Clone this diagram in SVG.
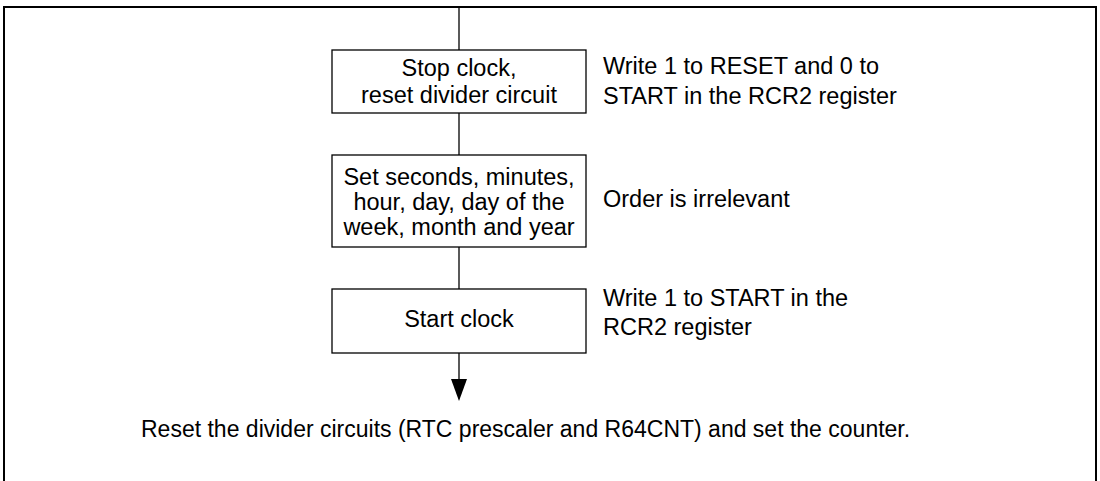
<svg xmlns="http://www.w3.org/2000/svg" width="1100" height="481" viewBox="0 0 1100 481">
<style>
.frame{fill:none;stroke:#000;stroke-width:2}
.box{fill:#fff;stroke:#000;stroke-width:1.3}
.ln{fill:none;stroke:#000;stroke-width:1.3}
.head{fill:#000}
text{font-family:"Liberation Sans",Arial,sans-serif;font-size:23.5px;fill:#000}
.c{text-anchor:middle}
.cap{font-size:23px}
</style>
<path class="frame" d="M4,481 V7 H1096 V481"/>
<g id="connectors">
<line class="ln" x1="459" y1="7" x2="459" y2="50"/>
<line class="ln" x1="459" y1="113" x2="459" y2="155"/>
<line class="ln" x1="459" y1="247" x2="459" y2="289"/>
<line class="ln" x1="459" y1="353" x2="459" y2="382"/>
<polygon class="head" points="451,379 467,379 459,401"/>
</g>
<g id="n1">
<rect class="box" x="332" y="50" width="254" height="63"/>
<text class="c" x="459" y="76">Stop clock,</text>
<text class="c" x="459" y="103">reset divider circuit</text>
</g>
<g id="n1note">
<text x="603" y="74">Write 1 to RESET and 0 to</text>
<text x="603" y="104">START in the RCR2 register</text>
</g>
<g id="n2">
<rect class="box" x="332" y="155" width="254" height="92"/>
<text class="c" x="459" y="185">Set seconds, minutes,</text>
<text class="c" x="459" y="210">hour, day, day of the</text>
<text class="c" x="459" y="235">week, month and year</text>
</g>
<g id="n2note">
<text x="603" y="207">Order is irrelevant</text>
</g>
<g id="n3">
<rect class="box" x="332" y="289" width="254" height="64"/>
<text class="c" x="459" y="327">Start clock</text>
</g>
<g id="n3note">
<text x="603" y="306">Write 1 to START in the</text>
<text x="603" y="335">RCR2 register</text>
</g>
<g id="caption">
<text class="cap" x="141" y="437">Reset the divider circuits (RTC prescaler and R64CNT) and set the counter.</text>
</g>
</svg>
